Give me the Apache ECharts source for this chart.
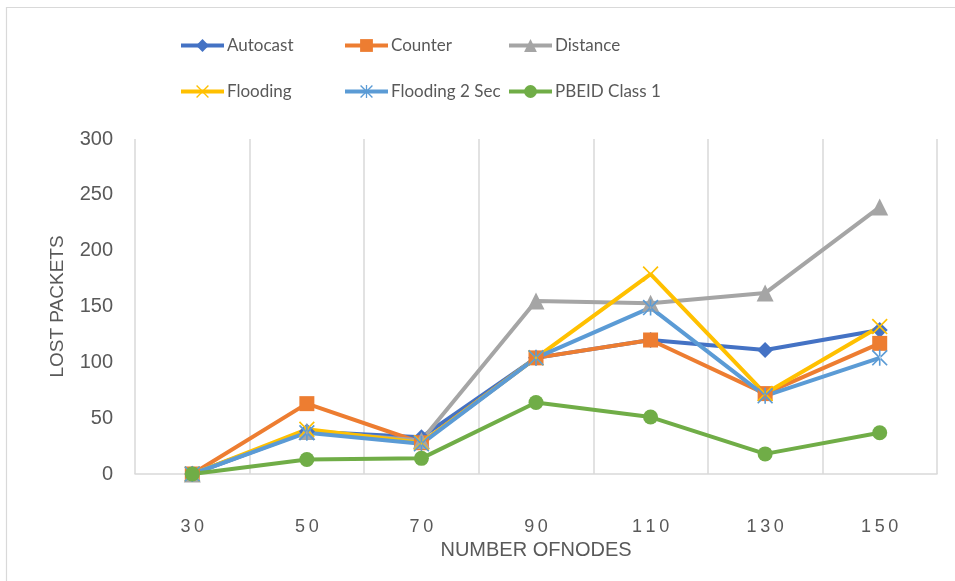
<!DOCTYPE html>
<html>
<head>
<meta charset="utf-8">
<script src="https://cdn.jsdelivr.net/npm/echarts@6/dist/echarts.min.js"></script>
<style>html,body{margin:0;padding:0;background:#fff;}#c{width:955px;height:581px;}</style>
</head>
<body>
<div id="c"></div>
<script>
var categories = ['30', '50', '70', '90', '110', '130', '150'];
var autocast = [0, 38, 33, 104, 120, 111, 129];
var counter = [0, 63, 28, 104, 120, 72, 117];
var distance = [0, 38, 30, 155, 153, 162, 239];
var flooding = [0, 40, 28, 104, 179, 72, 132];
var flooding2 = [0, 37, 27, 104, 149, 70, 104];
var pbeid = [0, 13, 14, 64, 51, 18, 37];
var yTicks = [0, 50, 100, 150, 200, 250, 300];

var FONT = '"Liberation Sans", "DejaVu Sans", sans-serif';
var LFONT = 'Lato, "Liberation Sans", sans-serif';
var TXT = '#595959';
var xPath = 'path://M1.5,0 L10,8.5 L18.5,0 L20,1.5 L11.5,10 L20,18.5 L18.5,20 L10,11.5 L1.5,20 L0,18.5 L8.5,10 L0,1.5 Z';
var starPath = 'path://M1.5,0 L10,8.5 L18.5,0 L20,1.5 L11.5,10 L20,18.5 L18.5,20 L10,11.5 L1.5,20 L0,18.5 L8.5,10 L0,1.5 Z M9,0 L9,20 L11,20 L11,0 Z';

function mk(name, data, color, symbol, size) {
  return {
    name: name, type: 'line', data: data,
    symbol: symbol, symbolSize: size,
    lineStyle: {color: color, width: 4},
    itemStyle: {color: color},
    emphasis: {disabled: true}
  };
}
var series = [
  mk('Autocast', autocast, '#4472C4', 'diamond', 16),
  mk('Counter', counter, '#ED7D31', 'rect', 15),
  mk('Distance', distance, '#A5A5A5', 'triangle', 17),
  mk('Flooding', flooding, '#FFC000', xPath, 16),
  mk('Flooding 2 Sec', flooding2, '#5B9BD5', starPath, 16),
  mk('PBEID Class 1', pbeid, '#70AD47', 'circle', 15)
];

function lg(name, left, top) {
  return {
    data: [name], left: left, top: top, orient: 'horizontal', padding: 0,
    itemWidth: 43, itemHeight: 16, itemGap: 0,
    lineStyle: {width: 4},
    textStyle: {fontFamily: LFONT, fontSize: 17, color: TXT, padding: [0, 0, 0, -2]},
    selectedMode: false
  };
}

var chart = echarts.init(document.getElementById('c'), null, {renderer: 'canvas'});
chart.setOption({
  animation: false,
  backgroundColor: '#fff',
  graphic: [{
    type: 'rect', shape: {x: 6.5, y: 7.5, width: 1000, height: 1000},
    style: {fill: 'none', stroke: '#d9d9d9', lineWidth: 1.2}, silent: true
  }],
  legend: [
    lg('Autocast', 179, 37), lg('Counter', 343, 37), lg('Distance', 507, 37),
    lg('Flooding', 179, 83), lg('Flooding 2 Sec', 343, 83), lg('PBEID Class 1', 507, 83)
  ],
  grid: {left: 135, right: 18, top: 139, bottom: 107, containLabel: false},
  xAxis: {
    type: 'category', data: categories, boundaryGap: true,
    name: 'NUMBER OFNODES', nameLocation: 'middle', nameGap: 46,
    nameTextStyle: {fontFamily: FONT, fontSize: 20, color: TXT},
    axisLine: {show: true, lineStyle: {color: '#d9d9d9', width: 1.5}},
    axisTick: {show: false},
    axisLabel: {
      margin: 44, fontFamily: FONT, fontSize: 18, color: TXT,
      formatter: function (v) { return v.split('').join('\u2009'); }
    },
    splitLine: {show: true, lineStyle: {color: '#d9d9d9', width: 1.5}}
  },
  yAxis: {
    type: 'value', min: yTicks[0], max: yTicks[yTicks.length - 1], interval: 50,
    name: 'LOST PACKETS', nameLocation: 'middle', nameGap: 68, nameRotate: 90,
    nameTextStyle: {fontFamily: FONT, fontSize: 19, color: TXT},
    axisLine: {show: false}, axisTick: {show: false},
    axisLabel: {margin: 22, fontFamily: FONT, fontSize: 20, color: TXT},
    splitLine: {show: false}
  },
  series: series
});
</script>
</body>
</html>
